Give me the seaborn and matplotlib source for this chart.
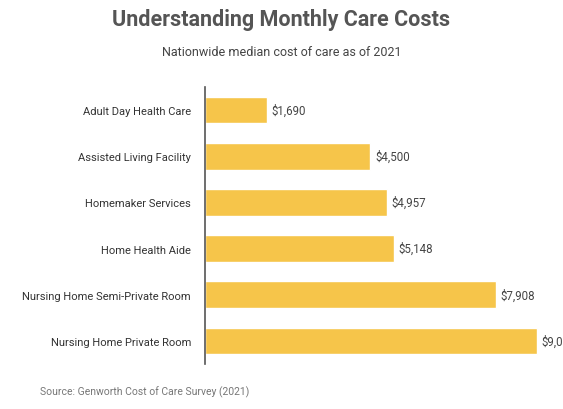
import matplotlib
matplotlib.use("Agg")
import matplotlib.pyplot as plt
import seaborn as sns
import pandas as pd

categories = ["Adult Day Health Care", "Assisted Living Facility", "Homemaker Services",
              "Home Health Aide", "Nursing Home Semi-Private Room", "Nursing Home Private Room"]
values = [1690, 4500, 4957, 5148, 7908, 9034]
labels = ["$1,690", "$4,500", "$4,957", "$5,148", "$7,908", "$9,034"]

sns.set_style("white")
plt.rcParams['font.family'] = ['Liberation Sans Narrow', 'Roboto', 'DejaVu Sans']

df = pd.DataFrame({"cat": categories, "val": values})
fig = plt.figure(figsize=(5.63, 4.10), dpi=100)
ax = fig.add_axes([205/563, 1-365/410, 345/563, 277/410])
sns.barplot(data=df, x="val", y="cat", color="#F6C54A", width=0.58, ax=ax, saturation=1)
for i, (v, l) in enumerate(zip(values, labels)):
    ax.text(v + 130, i, l, va="center", ha="left", fontsize=8.3, color="#444444")
ax.set_xlim(0, 9390)
ax.set_xlabel("")
ax.set_ylabel("")
ax.set_xticks([])
ax.tick_params(axis="y", length=0, labelsize=8, labelcolor="#333333", pad=10)
for s in ["top", "right", "bottom"]:
    ax.spines[s].set_visible(False)
ax.spines["left"].set_color("#555555")
ax.spines["left"].set_linewidth(1.2)

fig.text(0.5, 1-20/410, "Understanding Monthly Care Costs", ha="center", va="center",
         fontsize=15.5, fontweight="bold", color="#555555")
fig.text(0.5, 1-52/410, "Nationwide median cost of care as of 2021", ha="center", va="center",
         fontsize=9, color="#444444")
fig.text(40/563, 1-392/410, "Source: Genworth Cost of Care Survey (2021)", ha="left", va="center",
         fontsize=7.5, color="#777777")
fig.savefig("out.png", dpi=100)
